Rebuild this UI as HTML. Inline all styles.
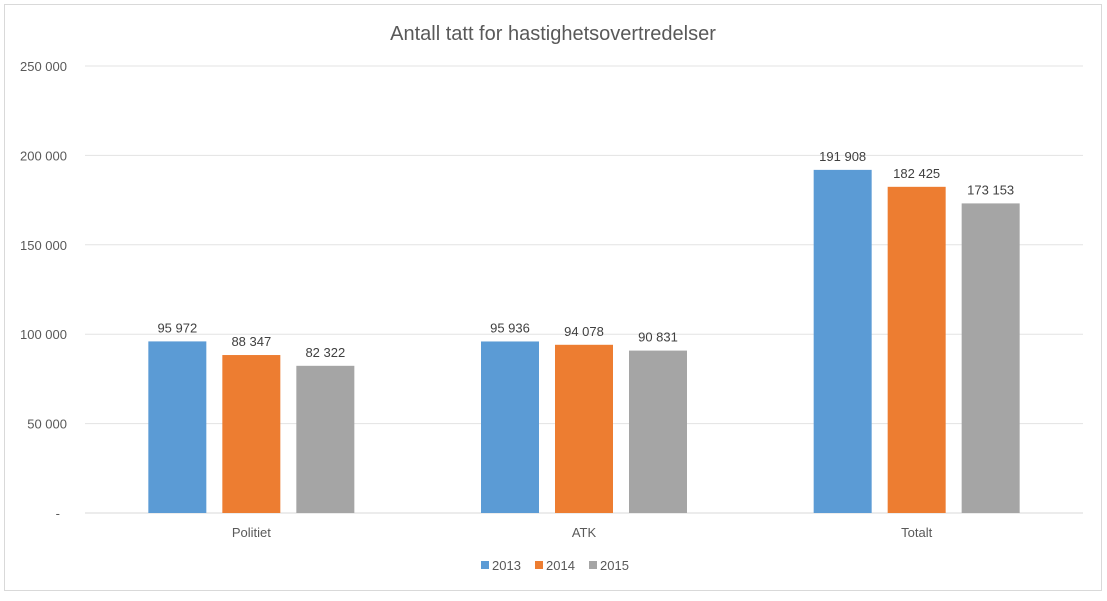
<!DOCTYPE html>
<html><head><meta charset="utf-8">
<style>
body{margin:0;background:#fff;font-family:"Liberation Sans",Arial,sans-serif;}
svg text{font-family:"Liberation Sans",Arial,sans-serif;}
</style></head>
<body>
<svg id="chart" width="1107" height="596" xmlns="http://www.w3.org/2000/svg">
<rect x="4.5" y="4.5" width="1097" height="586" fill="#fff" stroke="#d9d9d9"/>
<text x="553" y="40" text-anchor="middle" font-size="20" fill="#595959">Antall tatt for hastighetsovertredelser</text>
<g id="grid"></g><g id="bars"></g><g id="labels"></g>
<g id="legend"></g>
</svg>
<script>
const categories=["Politiet","ATK","Totalt"];
const seriesNames=["2013","2014","2015"];
const s2013=[95972,95936,191908];
const s2014=[88347,94078,182425];
const s2015=[82322,90831,173153];
const yTicks=[0,50000,100000,150000,200000,250000];
const tickLabels=["-","50 000","100 000","150 000","200 000","250 000"];
const colors=["#5b9bd5","#ed7d31","#a5a5a5"];
const series=[s2013,s2014,s2015];
const NS="http://www.w3.org/2000/svg";
const x0=85,x1=1083,yBase=513,yTop=66,yMax=250000;
const y=v=>yBase-(v/yMax)*(yBase-yTop);
const bandW=(x1-x0)/categories.length;
const xc=i=>x0+bandW*(i+0.5);
const barW=58,gap=16;
function mk(tag,attrs,parent){const e=document.createElementNS(NS,tag);for(const k in attrs)e.setAttribute(k,attrs[k]);parent.appendChild(e);return e;}
const fmt=v=>v.toString().replace(/\B(?=(\d{3})+(?!\d))/g," ");
const grid=document.getElementById('grid');
yTicks.forEach((t,i)=>{
 const l=mk('line',{x1:x0,x2:x1,y1:y(t),y2:y(t),stroke:i==0?'#d9d9d9':'#e3e3e3','stroke-width':1},grid);
 
 
 const tx=mk('text',{x:t==0?60:67,y:y(t)+5,'text-anchor':'end','font-size':13,fill:'#595959'},grid);
 tx.textContent=tickLabels[i];
 
 
});
const bars=document.getElementById('bars'),labels=document.getElementById('labels');
categories.forEach((c,i)=>{
 const cx=xc(i);
 series.forEach((s,j)=>{
  const bx=cx-barW/2+(j-1)*(barW+gap);
  const r=mk('rect',{x:bx,y:y(s[i]),width:barW,height:yBase-y(s[i]),fill:colors[j]},bars);
  
  
  const t=mk('text',{x:bx+barW/2,y:y(s[i])-9,'text-anchor':'middle','font-size':13,fill:'#404040'},labels);
  t.textContent=fmt(s[i]);
  
  
 });
 const ct=mk('text',{x:cx,y:537,'text-anchor':'middle','font-size':13,fill:'#595959'},labels);
 ct.textContent=c;
 
 
});
const lg=document.getElementById('legend');
seriesNames.forEach((n,j)=>{
 const lx=481+j*54;
 const r=mk('rect',{x:lx,y:561,width:8,height:8,fill:colors[j]},lg);
 
 
 const t=mk('text',{x:lx+11,y:570,'font-size':13,fill:'#595959'},lg);
 t.textContent=n;
 
 
});
</script>
</body></html>
